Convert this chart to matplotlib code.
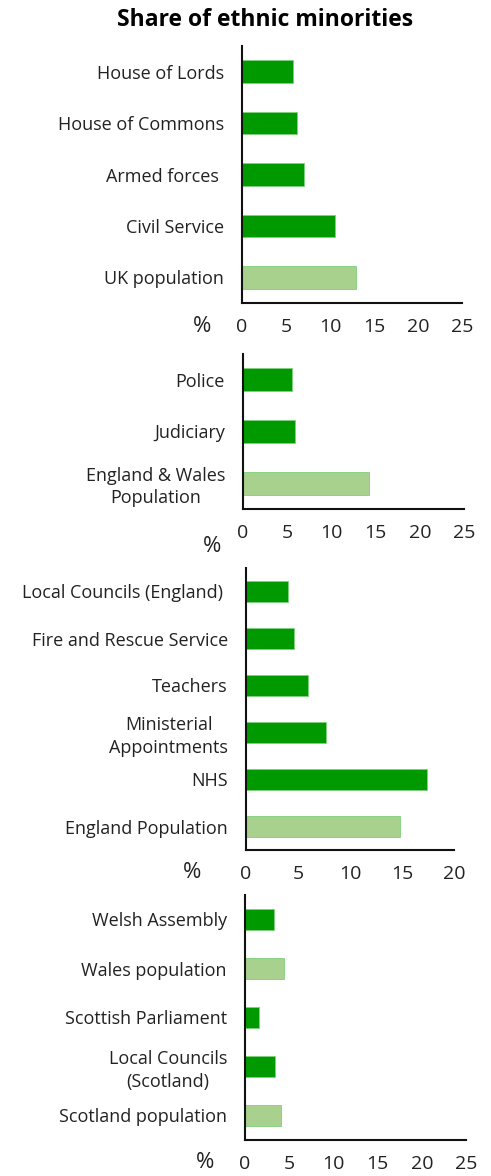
import matplotlib.pyplot as plt

plt.rcParams['font.family'] = ['Open Sans', 'DejaVu Sans']

DARK = '#009a00'
LIGHT = '#a9d18e'

# Panel 1 - UK
uk_labels = ['House of Lords', 'House of Commons', 'Armed forces ', 'Civil Service', 'UK population']
uk_values = [5.8, 6.25, 7.0, 10.6, 13.0]
uk_pop = [False, False, False, False, True]

# Panel 2 - England & Wales
ew_labels = ['Police', 'Judiciary', 'England & Wales\nPopulation']
ew_values = [5.55, 5.9, 14.2]
ew_pop = [False, False, True]

# Panel 3 - England
en_labels = ['Local Councils (England) ', 'Fire and Rescue Service', 'Teachers',
             'Ministerial\nAppointments', 'NHS', 'England Population']
en_values = [4.0, 4.65, 6.0, 7.7, 17.4, 14.8]
en_pop = [False, False, False, False, False, True]

# Panel 4 - Wales & Scotland
ws_labels = ['Welsh Assembly', 'Wales population', 'Scottish Parliament',
             'Local Councils\n(Scotland)', 'Scotland population']
ws_values = [3.3, 4.4, 1.6, 3.4, 4.1]
ws_pop = [False, True, False, False, True]

W, H = 491, 1176
fig = plt.figure(figsize=(W / 100, H / 100), dpi=100)

# (left, right, top, bottom) in pixels, xmax, % offset
panels = [
    (uk_labels, uk_values, uk_pop, (242, 462, 46, 303), 25, 0),
    (ew_labels, ew_values, ew_pop, (243, 464, 354, 509), 25, 15),
    (en_labels, en_values, en_pop, (246, 454, 568, 850), 20, 0),
    (ws_labels, ws_values, ws_pop, (245, 466, 895, 1140), 25, 0),
]
pct_x = [202, 212, 192, 205]

for i, (labels, values, pop, box, xmax, dy) in enumerate(panels):
    l, r, t, b = box
    ax = fig.add_axes([l / W, 1 - b / H, (r - l) / W, (b - t) / H])
    ypos = list(range(len(labels)))
    colors = [LIGHT if p else DARK for p in pop]
    ax.barh(ypos, values, height=0.44, color=colors, edgecolor='#7fd07f', linewidth=0.6)
    ax.set_ylim(len(labels) - 0.5, -0.5)
    ax.set_xlim(0, xmax)
    ax.set_xticks(range(0, xmax + 1, 5))
    ax.set_yticks(ypos)
    ax.set_yticklabels(labels, multialignment='center', linespacing=1.3)
    ax.tick_params(length=0, labelsize=13, colors='#222222')
    ax.tick_params(axis='x', pad=11, labelsize=14)
    ax.tick_params(axis='y', pad=13)
    for s in ['top', 'right']:
        ax.spines[s].set_visible(False)
    for s in ['left', 'bottom']:
        ax.spines[s].set_linewidth(1.5)
        ax.spines[s].set_color('#111111')
    fig.text(pct_x[i] / W, 1 - (b + 23 + dy) / H, '%', fontsize=16,
             ha='center', va='center', color='#222222')

fig.text(265 / W, 1 - 20 / H, 'Share of ethnic minorities', fontsize=16.5,
         fontweight='bold', ha='center', va='center')

fig.savefig('out.png', dpi=100)
